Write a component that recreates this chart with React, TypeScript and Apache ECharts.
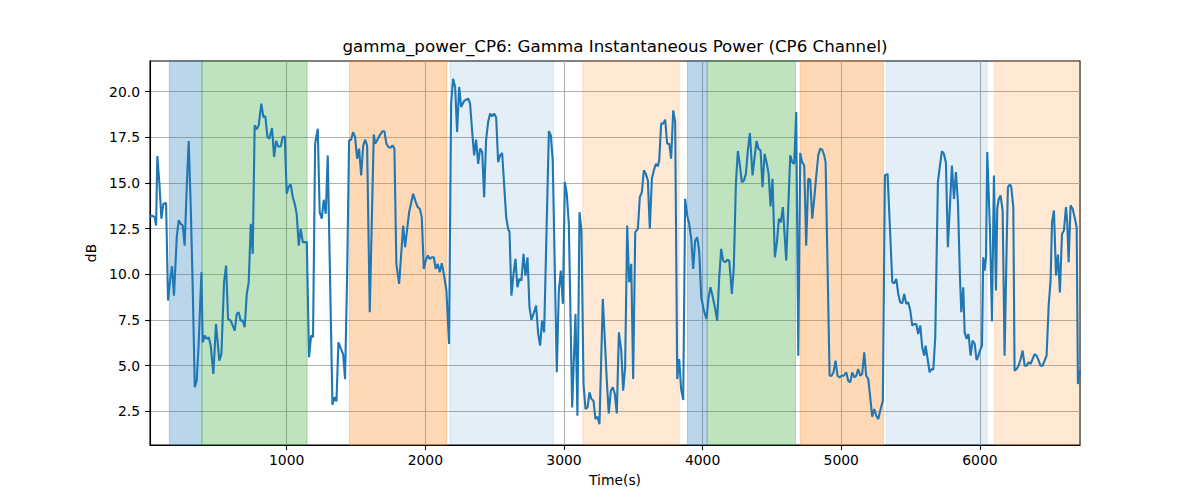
import React, { useEffect, useRef } from "react";
import * as echarts from "echarts";

const titleText = "gamma_power_CP6: Gamma Instantaneous Power (CP6 Channel)";
const xName = "Time(s)";
const yName = "dB";

const times = [
  14, 33, 48, 58, 67, 82, 96, 110, 130, 144, 159, 173, 187, 207, 221, 236, 250, 264, 279, 293,
  308, 322, 337, 351, 365, 375, 385, 394, 409, 423, 438, 452, 471, 490, 514, 529, 548, 563, 577, 596,
  611, 625, 640, 654, 668, 683, 697, 712, 726, 741, 755, 769, 784, 798, 817, 832, 846, 861, 875, 894,
  909, 923, 938, 957, 971, 986, 1000, 1015, 1029, 1044, 1058, 1072, 1087, 1101, 1116, 1145, 1161, 1176, 1190, 1205,
  1224, 1238, 1253, 1267, 1282, 1296, 1330, 1344, 1359, 1373, 1387, 1407, 1421, 1436, 1450, 1464, 1479, 1493, 1508, 1522,
  1537, 1551, 1565, 1580, 1599, 1628, 1638, 1652, 1671, 1690, 1705, 1719, 1734, 1748, 1763, 1777, 1791, 1811, 1840, 1854,
  1883, 1912, 1931, 1945, 1960, 1974, 1989, 2003, 2018, 2032, 2046, 2061, 2075, 2090, 2104, 2119, 2133, 2152, 2171, 2186,
  2200, 2215, 2229, 2244, 2258, 2280, 2294, 2309, 2323, 2337, 2352, 2366, 2381, 2395, 2410, 2424, 2438, 2453, 2467, 2482,
  2496, 2511, 2525, 2539, 2554, 2568, 2583, 2597, 2607, 2621, 2636, 2650, 2664, 2679, 2693, 2708, 2722, 2737, 2751, 2765,
  2780, 2799, 2814, 2828, 2842, 2857, 2891, 2905, 2919, 2948, 2963, 2977, 2992, 3006, 3020, 3035, 3059, 3083, 3097, 3112,
  3126, 3141, 3155, 3170, 3184, 3198, 3213, 3227, 3242, 3256, 3280, 3309, 3323, 3338, 3352, 3367, 3381, 3396, 3413, 3427,
  3441, 3456, 3470, 3485, 3499, 3514, 3533, 3547, 3562, 3576, 3590, 3605, 3619, 3634, 3648, 3663, 3677, 3687, 3701, 3716,
  3730, 3744, 3759, 3773, 3788, 3802, 3817, 3831, 3845, 3860, 3874, 3889, 3903, 3918, 3932, 3946, 3961, 3975, 3990, 4009,
  4028, 4043, 4057, 4071, 4091, 4105, 4120, 4134, 4148, 4163, 4177, 4192, 4211, 4225, 4240, 4254, 4269, 4283, 4298, 4312,
  4326, 4341, 4360, 4375, 4389, 4403, 4418, 4432, 4447, 4461, 4476, 4490, 4504, 4521, 4536, 4550, 4564, 4579, 4603, 4617,
  4632, 4646, 4661, 4675, 4690, 4704, 4718, 4733, 4747, 4762, 4776, 4791, 4805, 4819, 4834, 4848, 4863, 4877, 4887, 4916,
  4930, 4944, 4959, 4973, 4988, 5002, 5017, 5036, 5050, 5065, 5079, 5094, 5108, 5122, 5137, 5151, 5166, 5180, 5195, 5209,
  5223, 5238, 5252, 5267, 5281, 5300, 5315, 5334, 5353, 5368, 5382, 5397, 5411, 5425, 5440, 5454, 5469, 5483, 5498, 5512,
  5526, 5541, 5555, 5570, 5584, 5599, 5608, 5623, 5637, 5649, 5664, 5678, 5697, 5712, 5726, 5740, 5755, 5769, 5784, 5798,
  5813, 5827, 5842, 5856, 5866, 5880, 5890, 5904, 5918, 5933, 5947, 5962, 5976, 5986, 6000, 6015, 6024, 6034, 6044, 6053,
  6072, 6087, 6101, 6116, 6125, 6135, 6149, 6164, 6178, 6193, 6202, 6217, 6226, 6241, 6250, 6265, 6279, 6294, 6308, 6323,
  6337, 6351, 6366, 6380, 6395, 6409, 6424, 6438, 6452, 6467, 6481, 6496, 6510, 6520, 6534, 6549, 6563, 6577, 6592, 6606,
  6621, 6630, 6640, 6654, 6669, 6683, 6698, 6707, 6722,
];

const values = [
  13.16, 13.2, 13.13, 12.67, 16.47, 14.96, 13.04, 13.86, 13.9, 8.56, 9.66, 10.44, 8.83, 12.03, 12.95, 12.76, 12.67, 11.57, 14.77, 17.3,
  13.68, 9.29, 3.81, 4.17, 6.18, 8.19, 10.11, 6.27, 6.64, 6.46, 6.55, 6.09, 4.54, 7.28, 5.27, 5.63, 9.56, 10.48, 7.55, 7.46,
  7.19, 6.91, 7.83, 7.92, 7.46, 7.46, 7.1, 8.92, 9.56, 12.76, 11.12, 18.16, 17.94, 18.16, 19.34, 18.61, 18.65, 17.52, 17.42, 18.01,
  16.42, 17.3, 17.0, 17.0, 17.52, 17.55, 14.41, 14.81, 14.92, 14.22, 13.86, 13.31, 11.57, 12.49, 11.76, 11.76, 5.45, 6.64, 6.55, 17.15,
  17.97, 13.4, 13.04, 14.08, 13.31, 16.51, 2.85, 3.26, 3.04, 6.27, 6.0, 5.63, 4.26, 10.02, 17.33, 17.37, 17.79, 17.52, 16.33, 16.88,
  15.41, 17.0, 17.37, 17.06, 7.92, 17.66, 17.15, 17.33, 17.61, 17.83, 17.83, 17.15, 16.97, 16.93, 17.06, 16.88, 10.57, 9.47, 12.67, 11.48,
  13.4, 14.41, 13.95, 13.68, 13.59, 13.13, 10.29, 10.75, 11.03, 10.84, 10.93, 10.93, 10.29, 10.57, 10.11, 10.61, 10.02, 9.11, 6.18, 19.34,
  20.71, 20.26, 17.79, 20.26, 19.16, 19.49, 19.56, 19.62, 19.34, 17.88, 16.51, 17.37, 16.05, 16.88, 16.69, 14.22, 17.33, 18.34, 18.8, 18.65,
  18.8, 18.58, 16.14, 16.51, 16.64, 14.96, 13.13, 12.49, 12.31, 8.83, 10.02, 10.84, 9.29, 9.75, 9.65, 11.12, 9.93, 10.93, 8.19, 7.5,
  7.83, 8.28, 6.73, 6.09, 7.46, 6.82, 17.84, 17.61, 16.24, 4.63, 9.11, 10.2, 8.38, 15.05, 14.41, 12.76, 2.71, 7.83, 2.25, 13.4,
  12.4, 3.99, 2.62, 2.71, 3.53, 3.17, 3.07, 2.07, 2.2, 1.79, 8.65, 4.17, 2.38, 3.62, 3.81, 3.44, 2.38, 6.82, 5.82, 3.62,
  4.9, 12.67, 9.56, 10.57, 4.26, 12.31, 12.49, 14.22, 14.5, 15.69, 15.5, 15.14, 12.49, 15.23, 15.69, 16.05, 15.91, 16.24, 18.25, 18.25,
  18.47, 17.15, 17.15, 16.33, 18.98, 18.34, 4.26, 5.36, 3.71, 3.11, 14.13, 13.22, 12.76, 11.94, 10.29, 11.85, 12.03, 11.3, 8.74, 8.01,
  7.55, 8.74, 9.29, 8.83, 8.1, 7.46, 9.84, 11.39, 10.75, 10.66, 10.79, 10.75, 8.92, 10.39, 14.96, 16.75, 15.96, 15.05, 15.14, 15.5,
  16.78, 17.73, 15.41, 16.42, 17.3, 16.88, 16.78, 14.77, 16.6, 16.14, 15.5, 13.71, 15.23, 10.93, 11.76, 13.04, 12.85, 13.68, 10.75, 13.49,
  16.51, 16.14, 16.05, 18.89, 5.54, 16.64, 16.14, 15.96, 11.57, 15.23, 15.19, 13.04, 14.13, 15.32, 16.51, 16.88, 16.82, 16.51, 16.14, 4.44,
  4.44, 4.63, 5.27, 4.44, 4.35, 4.44, 4.44, 4.63, 4.17, 4.08, 4.63, 4.35, 4.44, 4.81, 4.44, 4.54, 5.72, 4.44, 4.26, 3.26,
  2.2, 2.62, 2.25, 2.07, 2.53, 3.07, 15.41, 15.5, 12.21, 9.56, 9.51, 9.75, 8.92, 8.47, 8.41, 8.92, 8.38, 8.47, 8.01, 7.19,
  7.28, 7.28, 6.73, 7.19, 6.0, 5.54, 6.09, 5.36, 4.63, 4.79, 4.79, 6.55, 15.05, 15.96, 16.75, 16.6, 16.09, 11.48, 13.77, 15.96,
  14.13, 15.6, 13.86, 9.84, 7.92, 9.29, 6.82, 6.46, 6.73, 5.54, 6.36, 6.22, 5.3, 5.45, 5.82, 6.09, 10.93, 10.2, 10.93, 16.69,
  12.58, 7.42, 15.41, 9.11, 13.59, 14.08, 14.32, 13.49, 5.54, 11.57, 14.77, 14.92, 14.77, 13.68, 4.72, 4.81, 4.99, 5.36, 5.82, 4.99,
  4.99, 5.18, 5.09, 5.36, 5.63, 5.54, 5.27, 4.99, 4.99, 5.27, 5.54, 8.28, 9.65, 12.85, 13.49, 9.93, 11.08, 9.01, 12.21, 12.4,
  13.68, 12.85, 10.66, 13.77, 13.59, 13.13, 12.58, 3.99, 4.72,
];

const spanStarts = [154, 389, 1452, 2179, 3136, 3891, 4033, 4704, 5324, 6106];
const spanEnds = [389, 1147, 2155, 2924, 3831, 4033, 4670, 5305, 6053, 6722];
const spanKinds = ["blue", "green", "orange", "lightblue", "lightorange", "blue", "green", "orange", "lightblue", "lightorange"];

const xTickValues = [1000, 2000, 3000, 4000, 5000, 6000];
const yTickValues = [2.5, 5, 7.5, 10, 12.5, 15, 17.5, 20];

const xMin = 14;
const xMax = 6722;
const yMin = 0.65;
const yMax = 21.68;

const spanFill: Record<string, string> = {
  blue: "rgba(31,119,180,0.3)",
  green: "rgba(44,160,44,0.3)",
  orange: "rgba(255,127,14,0.3)",
  lightblue: "rgba(31,119,180,0.12)",
  lightorange: "rgba(255,127,14,0.18)",
};

export default function App() {
  const ref = useRef<HTMLDivElement>(null);

  useEffect(() => {
    if (!ref.current) return;
    const chart = echarts.init(ref.current, null, { renderer: "svg" });
    const font = "DejaVu Sans";
    const tickFont = 13.9;

    chart.setOption({
      animation: false,
      backgroundColor: "#ffffff",
      textStyle: { fontFamily: font },
      grid: {
        left: 150,
        right: 120,
        top: 61,
        bottom: 55,
        containLabel: false,
        show: true,
        borderColor: "#000000",
        borderWidth: 1.1,
        backgroundColor: "transparent",
      },
      graphic: [
        {
          type: "text",
          x: 615,
          y: 46,
          style: {
            text: titleText,
            fontFamily: font,
            fontSize: 16.7,
            fill: "#000000",
            textAlign: "center",
            textVerticalAlign: "middle",
          },
        },
      ],
      xAxis: {
        type: "value",
        min: xMin,
        max: xMax,
        minInterval: 1000,
        maxInterval: 1000,
        name: xName,
        nameLocation: "middle",
        nameGap: 28,
        nameTextStyle: { fontSize: tickFont, color: "#000000", fontFamily: font },
        axisLine: { show: true, onZero: false, lineStyle: { color: "#000000", width: 1.1 } },
        axisTick: {
          show: true,
          inside: false,
          length: 4.9,
          customValues: xTickValues,
          lineStyle: { color: "#000000", width: 1.1 },
        },
        axisLabel: {
          show: true,
          margin: 8,
          fontSize: tickFont,
          color: "#000000",
          fontFamily: font,
          customValues: xTickValues,
          formatter: (v: number) => String(Math.round(v)),
        },
        splitLine: { show: true, lineStyle: { color: "#b0b0b0", width: 1.1 } },
      },
      yAxis: {
        type: "value",
        min: yMin,
        max: yMax,
        minInterval: 2.5,
        maxInterval: 2.5,
        name: yName,
        nameLocation: "middle",
        nameGap: 43,
        nameTextStyle: { fontSize: tickFont, color: "#000000", fontFamily: font },
        axisLine: { show: true, onZero: false, lineStyle: { color: "#000000", width: 1.1 } },
        axisTick: {
          show: true,
          inside: false,
          length: 4.9,
          customValues: yTickValues,
          lineStyle: { color: "#000000", width: 1.1 },
        },
        axisLabel: {
          show: true,
          margin: 10,
          fontSize: tickFont,
          color: "#000000",
          fontFamily: font,
          customValues: yTickValues,
          formatter: (v: number) => v.toFixed(1),
        },
        splitLine: { show: true, lineStyle: { color: "#b0b0b0", width: 1.1 } },
      },
      series: [
        {
          type: "line",
          data: times.map((t, i) => [t, values[i]]),
          showSymbol: false,
          symbol: "none",
          clip: true,
          lineStyle: { color: "#1f77b4", width: 2.1 },
          itemStyle: { color: "#1f77b4" },
          z: 3,
          markArea: {
            silent: true,
            data: spanStarts.map((s, i) => [
              {
                xAxis: s,
                itemStyle: {
                  color: spanFill[spanKinds[i]],
                  borderColor: spanFill[spanKinds[i]],
                  borderWidth: 1,
                },
              },
              { xAxis: spanEnds[i] },
            ]),
          },
        },
      ],
    });

    return () => {
      chart.dispose();
    };
  }, []);

  return (
    <div
      ref={ref}
      style={{ position: "absolute", left: 0, top: 0, width: 1200, height: 500 }}
    />
  );
}
